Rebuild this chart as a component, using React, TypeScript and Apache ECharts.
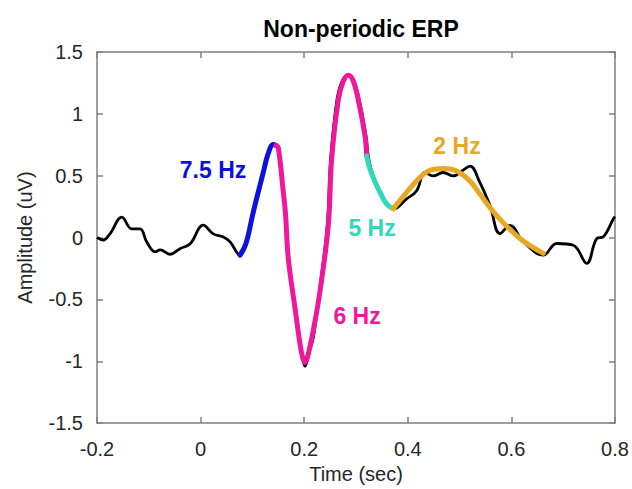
import React, { useEffect, useRef } from "react";
import * as echarts from "echarts";

const xTicks = [-0.2, 0, 0.2, 0.4, 0.6, 0.8];
const yTicks = [-1.5, -1, -0.5, 0, 0.5, 1, 1.5];

const erpBlack: [number, number][] = [
  [-0.2, 0.0], [-0.188, -0.02], [-0.175, 0.03], [-0.152, 0.165], [-0.133, 0.07],
  [-0.117, 0.07], [-0.104, -0.035], [-0.088, -0.115], [-0.078, -0.1], [-0.059, -0.135],
  [-0.04, -0.09], [-0.02, -0.05], [0.005, 0.1], [0.0245, 0.03], [0.044, 0.005],
  [0.057, -0.035], [0.076, -0.142], [0.0876, -0.048], [0.1017, 0.206], [0.121, 0.526],
  [0.13, 0.672], [0.1403, 0.752], [0.1456, 0.744], [0.15, 0.726], [0.1597, 0.366],
  [0.1639, 0.192], [0.1693, -0.168], [0.1822, -0.568], [0.1919, -0.86], [0.197, -0.97],
  [0.2015, -1.04], [0.206, -0.99], [0.2112, -0.904], [0.2176, -0.808], [0.2295, -0.434],
  [0.2445, 0.098], [0.251, 0.632], [0.2638, 1.13], [0.2739, 1.27], [0.2851, 1.312],
  [0.2952, 1.272], [0.3064, 1.112], [0.3194, 0.818], [0.3237, 0.658], [0.329, 0.552],
  [0.341, 0.418], [0.347, 0.366], [0.359, 0.272], [0.372, 0.232], [0.3977, 0.312],
  [0.417, 0.378], [0.433, 0.526], [0.449, 0.498], [0.468, 0.526], [0.488, 0.498],
  [0.505, 0.54], [0.52, 0.578], [0.539, 0.446], [0.5587, 0.258], [0.578, 0.032],
  [0.597, 0.098], [0.623, -0.034], [0.6616, -0.142], [0.6875, -0.048], [0.7195, -0.062],
  [0.7454, -0.208], [0.7647, -0.008], [0.7774, 0.006], [0.797, 0.152], [0.8, 0.17],
];

const fit75Hz: [number, number][] = [
  [0.0761, -0.142], [0.0876, -0.048], [0.1017, 0.206], [0.121, 0.526],
  [0.13, 0.672], [0.1403, 0.752], [0.1456, 0.744],
];

const fit6Hz: [number, number][] = [
  [0.1456, 0.744], [0.15, 0.726], [0.1597, 0.366], [0.1639, 0.192], [0.1693, -0.168],
  [0.1822, -0.568], [0.1919, -0.86], [0.197, -0.97], [0.2015, -1.01], [0.206, -0.97],
  [0.2112, -0.88], [0.2176, -0.75], [0.2305, -0.434], [0.2465, 0.098], [0.253, 0.632],
  [0.2658, 1.112], [0.2749, 1.256], [0.2851, 1.312], [0.2942, 1.272], [0.3044, 1.112],
  [0.3174, 0.818], [0.3207, 0.658],
];

const fit5Hz: [number, number][] = [
  [0.3207, 0.658], [0.327, 0.552], [0.34, 0.418], [0.3463, 0.366], [0.359, 0.272],
  [0.3718, 0.232],
];

const fit2Hz: [number, number][] = [
  [0.3718, 0.232], [0.3977, 0.366], [0.4236, 0.486], [0.4429, 0.544], [0.4685, 0.558],
  [0.4944, 0.538], [0.52, 0.456], [0.539, 0.352], [0.5716, 0.178], [0.6166, -0.008],
  [0.6616, -0.128],
];

const bandLabels = ["7.5 Hz", "6 Hz", "5 Hz", "2 Hz"];
const bandLabelAt: [number, number][] = [
  [0.024, 0.544], [0.302, -0.632], [0.331, 0.08], [0.495, 0.744],
];
const bandColors = ["#0c12dc", "#f0189a", "#30d8bc", "#e8a824"];

const FONT = "Liberation Sans, Arial, sans-serif";
const BOX = "#808080";

export default function App() {
  const ref = useRef<HTMLDivElement>(null);
  useEffect(() => {
    if (!ref.current) return;
    const chart = echarts.init(ref.current, undefined, { renderer: "svg" });
    const fmt = (v: number) => {
      const r = Math.round(v * 10) / 10;
      return String(r === 0 ? 0 : r);
    };
    const axisCommon = {
      type: "value" as const,
      axisLine: { show: true, onZero: false, lineStyle: { color: BOX, width: 1.5 } },
      axisTick: { show: true, inside: true, length: 6, lineStyle: { color: BOX, width: 1.5 } },
      splitLine: { show: false },
    };
    const fits = [fit75Hz, fit6Hz, fit5Hz, fit2Hz];
    chart.setOption({
      animation: false,
      title: {
        text: "Non-periodic ERP",
        left: 356,
        top: 12,
        textAlign: "center",
        textStyle: { fontFamily: FONT, fontWeight: "bold", fontSize: 23, color: "#000" },
      },
      grid: { left: 97, right: 17, top: 52, bottom: 61, containLabel: false },
      xAxis: [
        {
          ...axisCommon,
          min: -0.2, max: 0.8, interval: 0.2,
          position: "bottom",
          name: "Time (sec)",
          nameLocation: "middle",
          nameGap: 38,
          nameTextStyle: { fontFamily: FONT, fontSize: 20, color: "#262626" },
          axisLabel: { fontFamily: FONT, fontSize: 20, color: "#262626", margin: 16, formatter: fmt },
        },
        {
          ...axisCommon,
          min: -0.2, max: 0.8, interval: 0.2,
          position: "top",
          axisLabel: { show: false },
        },
      ],
      yAxis: [
        {
          ...axisCommon,
          min: -1.5, max: 1.5, interval: 0.5,
          position: "left",
          name: "Amplitude (uV)",
          nameLocation: "middle",
          nameGap: 62,
          nameTextStyle: { fontFamily: FONT, fontSize: 20, color: "#262626" },
          axisLabel: { fontFamily: FONT, fontSize: 20, color: "#262626", margin: 14, formatter: fmt },
        },
        {
          ...axisCommon,
          min: -1.5, max: 1.5, interval: 0.5,
          position: "right",
          axisLabel: { show: false },
        },
      ],
      series: [
        {
          type: "line",
          data: erpBlack,
          smooth: 0.4,
          showSymbol: false,
          lineStyle: { color: "#000", width: 2.8 },
          z: 2,
        },
        ...fits.map((d, i) => ({
          type: "line",
          data: d,
          smooth: 0.4,
          showSymbol: false,
          lineStyle: { color: bandColors[i], width: 5, cap: "round" },
          z: 3,
        })),
        {
          type: "scatter",
          symbolSize: 0,
          z: 4,
          itemStyle: { opacity: 1 },
          data: bandLabelAt.map((p, i) => ({
            value: p,
            label: {
              show: true,
              position: "inside",
              formatter: bandLabels[i],
              color: bandColors[i],
              opacity: 1,
              fontFamily: FONT,
              fontWeight: "bold",
              fontSize: 23,
            },
          })),
        },
      ],
    });
    return () => chart.dispose();
  }, []);
  return (
    <div
      ref={ref}
      style={{ position: "fixed", left: 0, top: 0, width: 632, height: 489, background: "#fff" }}
    />
  );
}
